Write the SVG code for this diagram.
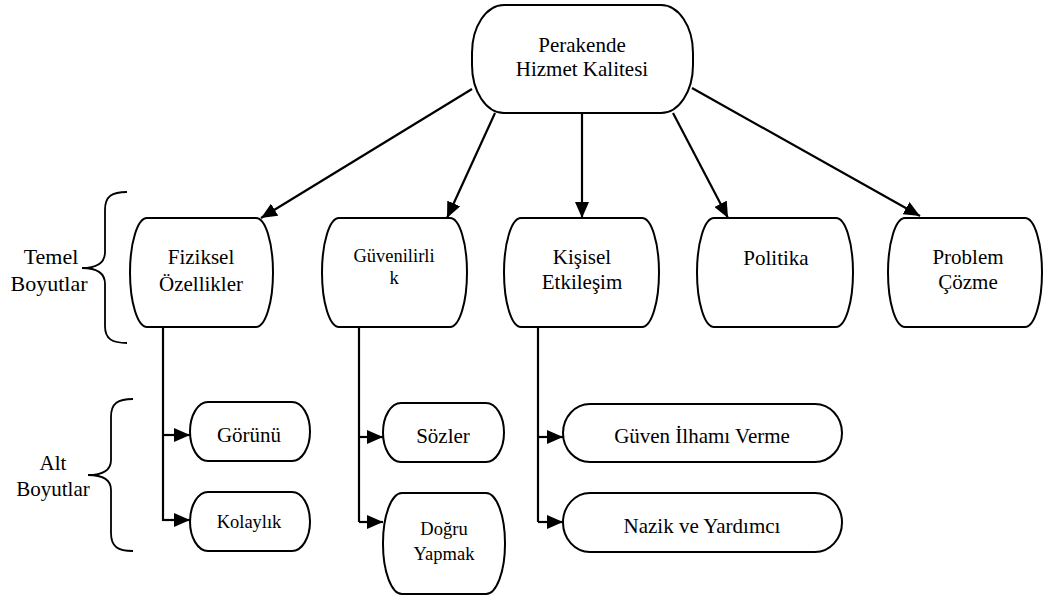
<svg xmlns="http://www.w3.org/2000/svg" width="1044" height="596" viewBox="0 0 1044 596">
  <style>
    .box { fill: #ffffff; stroke: #000000; stroke-width: 2; }
    .line { fill: none; stroke: #000000; stroke-width: 2.2; }
    .brace { fill: none; stroke: #000000; stroke-width: 1.8; }
    text { fill: #000000; text-anchor: middle; }
    .t21 { font-size: 21px; }
    .t18 { font-size: 18.5px; }
    .t22 { font-size: 22px; }
  </style>
  <defs>
    <marker id="arrow" markerWidth="17" markerHeight="14" refX="16" refY="7" orient="auto" markerUnits="userSpaceOnUse">
      <path d="M0,0 L16,7 L0,14 Z" fill="#000000"/>
    </marker>
  </defs>

  <rect width="1044" height="596" fill="#ffffff"/>

  <!-- connectors -->
  <g id="connectors">
    <line class="line" x1="472" y1="89" x2="261" y2="218" marker-end="url(#arrow)"/>
    <line class="line" x1="495" y1="113" x2="447" y2="218" marker-end="url(#arrow)"/>
    <line class="line" x1="582" y1="113" x2="582" y2="218" marker-end="url(#arrow)"/>
    <line class="line" x1="673" y1="113" x2="728" y2="218" marker-end="url(#arrow)"/>
    <line class="line" x1="692" y1="88" x2="920" y2="216" marker-end="url(#arrow)"/>

    <path class="line" d="M163,327 V521"/>
    <line class="line" x1="163" y1="435" x2="190" y2="435" marker-end="url(#arrow)"/>
    <line class="line" x1="163" y1="520" x2="190" y2="520" marker-end="url(#arrow)"/>

    <path class="line" d="M359,327 V522"/>
    <line class="line" x1="359" y1="437" x2="383" y2="437" marker-end="url(#arrow)"/>
    <line class="line" x1="359" y1="522" x2="383" y2="522" marker-end="url(#arrow)"/>

    <path class="line" d="M538,327 V522"/>
    <line class="line" x1="538" y1="437" x2="563" y2="437" marker-end="url(#arrow)"/>
    <line class="line" x1="538" y1="522" x2="563" y2="522" marker-end="url(#arrow)"/>
  </g>

  <g font-family="'Liberation Serif', 'Times New Roman', 'DejaVu Serif', serif">
    <!-- brace labels -->
    <g id="temel-boyutlar">
      <path class="brace" d="M127,192 C112,192 105,196 105,210 V252 C105,262 98,268 82,268 C98,268 105,274 105,284 V326 C105,339 112,343 127,343"/>
      <text class="t22" x="51" y="264">Temel</text>
      <text class="t22" x="49" y="291">Boyutlar</text>
    </g>
    <g id="alt-boyutlar">
      <path class="brace" d="M133,399 C118,399 111,403 111,417 V460 C111,470 104,475 88,475 C104,475 111,480 111,490 V533 C111,547 118,551 133,551"/>
      <text class="t21" x="53" y="470">Alt</text>
      <text class="t21" x="53" y="496">Boyutlar</text>
    </g>

    <!-- root -->
    <g id="perakende-hizmet-kalitesi">
      <rect class="box" x="472" y="5" width="221" height="108" rx="32" ry="48"/>
      <text class="t21" x="582" y="52">Perakende</text>
      <text class="t21" x="582" y="76">Hizmet Kalitesi</text>
    </g>

    <!-- main dimensions -->
    <g id="fiziksel-ozellikler">
      <rect class="box" x="130" y="218" width="143" height="109" rx="17" ry="54.5"/>
      <text class="t21" x="201" y="264">Fiziksel</text>
      <text class="t21" x="201" y="291">Özellikler</text>
    </g>
    <g id="guvenilirlik">
      <rect class="box" x="322" y="218" width="145" height="109" rx="17" ry="54.5"/>
      <text class="t18" x="394" y="262">Güvenilirli</text>
      <text class="t18" x="394" y="284">k</text>
    </g>
    <g id="kisisel-etkilesim">
      <rect class="box" x="504" y="218" width="155" height="109" rx="17" ry="54.5"/>
      <text class="t21" x="582" y="264">Kişisel</text>
      <text class="t21" x="582" y="289">Etkileşim</text>
    </g>
    <g id="politika">
      <rect class="box" x="697" y="218" width="156" height="109" rx="17" ry="54.5"/>
      <text class="t21" x="776" y="265">Politika</text>
    </g>
    <g id="problem-cozme">
      <rect class="box" x="888" y="218" width="154" height="109" rx="17" ry="54.5"/>
      <text class="t21" x="968" y="264">Problem</text>
      <text class="t21" x="968" y="289">Çözme</text>
    </g>

    <!-- sub dimensions -->
    <g id="gorunu">
      <rect class="box" x="190" y="402" width="120" height="59" rx="18" ry="29.5"/>
      <text class="t21" x="249" y="442">Görünü</text>
    </g>
    <g id="kolaylik">
      <rect class="box" x="190" y="492" width="120" height="59" rx="18" ry="29.5"/>
      <text class="t18" x="249" y="528">Kolaylık</text>
    </g>
    <g id="sozler">
      <rect class="box" x="383" y="403" width="121" height="59" rx="18" ry="29.5"/>
      <text class="t21" x="443" y="443">Sözler</text>
    </g>
    <g id="dogru-yapmak">
      <rect class="box" x="383" y="493" width="122" height="101" rx="19" ry="50"/>
      <text class="t18" x="444" y="535">Doğru</text>
      <text class="t18" x="444" y="560">Yapmak</text>
    </g>
    <g id="guven-ilhami-verme">
      <rect class="box" x="563" y="404" width="279" height="58" rx="27" ry="29"/>
      <text class="t21" x="702" y="443">Güven İlhamı Verme</text>
    </g>
    <g id="nazik-ve-yardimci">
      <rect class="box" x="563" y="493" width="279" height="59" rx="27" ry="29.5"/>
      <text class="t21" x="702" y="533">Nazik ve Yardımcı</text>
    </g>
  </g>
</svg>
